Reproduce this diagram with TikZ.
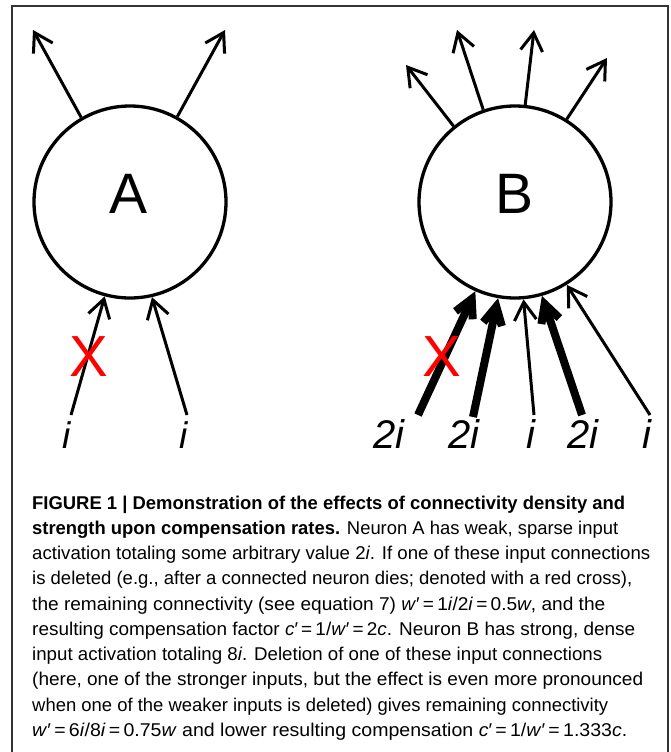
\documentclass[tikz,border=0pt]{standalone}
\usepackage{fontspec}
\setmainfont{Liberation Sans}
\usepackage{graphicx}
\usetikzlibrary{arrows.meta}
\begin{document}
\begin{tikzpicture}[x=1pt,y=-1pt,
  neuron/.style={draw, circle, line width=3.3pt, minimum size=192pt, inner sep=0pt},
  letter/.style={font=\fontsize{57}{57}\selectfont, anchor=base, inner sep=0pt},
  wkarr/.style={line width=3pt, -{Straight Barb[length=18pt,width=22pt]}},
  starr/.style={line width=8pt, -{Straight Barb[length=18pt,width=19pt]}},
  lblA/.style={font=\fontsize{37}{37}\selectfont\itshape, anchor=base, inner sep=0pt},
  lblB/.style={font=\fontsize{40}{40}\selectfont\itshape, anchor=base, inner sep=0pt},
  cross/.style={text=red, font=\fontsize{58}{58}\selectfont, inner sep=0pt},
  capline/.style={anchor=base west, inner sep=0pt, font=\fontsize{18.5}{18.5}\selectfont},
  frame/.style={line width=1.3pt, black!80}
]
\useasboundingbox (0,0) rectangle (670,752);
\draw[frame] (12,770) -- (12,6) -- (668,6) -- (668,770);

% neurons
\node[neuron] (A) at (130,202) {};
\node[neuron] (B) at (515,202) {};
\node[letter] (labA) at (129,213) {A};
\node[letter] (labB) at (515,213) {B};

% free ends
\coordinate (oA1) at (33,30);
\coordinate (oA2) at (225,30);
\coordinate (oB1) at (406,65);
\coordinate (oB2) at (457,30);
\coordinate (oB3) at (534,30);
\coordinate (oB4) at (607,58);
\coordinate (sA1) at (71,415);
\coordinate (sA2) at (187,415);
\coordinate (sB1) at (418,415);
\coordinate (sB2) at (473,417);
\coordinate (sB3) at (534,415);
\coordinate (sB4) at (582,415);
\coordinate (sB5) at (650,415);

% outputs
\draw[wkarr] (A.120) -- (oA1);
\draw[wkarr] (A.61) -- (oA2);
\draw[wkarr] (B.129) -- (oB1);
\draw[wkarr] (B.109) -- (oB2);
\draw[wkarr] (B.84) -- (oB3);
\draw[wkarr] (B.58) -- (oB4);

% inputs
\draw[wkarr] (sA1) -- (A.255);
\draw[wkarr] (sA2) -- (A.283);
\draw[starr] (sB1) -- (B.246);
\draw[starr] (sB2) -- (B.260);
\draw[wkarr] (sB3) -- (B.275);
\draw[starr] (sB4) -- (B.286);
\draw[wkarr] (sB5) -- (B.302);

% input labels
\node[lblA] (iA1) at (67,448) {i};
\node[lblA] (iA2) at (184,448) {i};
\node[lblB] (iB1) at (389,448) {2i};
\node[lblB] (iB2) at (464,448) {2i};
\node[lblB] (iB3) at (531,448) {i};
\node[lblB] (iB4) at (583,448) {2i};
\node[lblB] (iB5) at (647,448) {i};

% red crosses
\node[cross] (xA) at (89,357) {X};
\node[cross] (xB) at (442,357) {X};

% caption
\node[capline] (c1) at (32,509) {\resizebox{593pt}{\height}{\textbf{FIGURE 1 | Demonstration of the effects of connectivity density and}}};
\node[capline] (c2) at (32,534.25) {\resizebox{586pt}{\height}{\textbf{strength upon compensation rates.} Neuron A has weak, sparse input}};
\node[capline] (c3) at (32,559.5) {\resizebox{618pt}{\height}{activation totaling some arbitrary value 2\textit{i}. If one of these input connections}};
\node[capline] (c4) at (32,584.75) {\resizebox{600pt}{\height}{is deleted (e.g., after a connected neuron dies; denoted with a red cross),}};
\node[capline] (c5) at (32,610) {\resizebox{573pt}{\height}{the remaining connectivity (see equation 7) \textit{w}′\,=\,1\textit{i}/2\textit{i}\,=\,0.5\textit{w}, and the}};
\node[capline] (c6) at (32,635.25) {\resizebox{603pt}{\height}{resulting compensation factor \textit{c}′\,=\,1/\textit{w}′\,=\,2\textit{c}. Neuron B has strong, dense}};
\node[capline] (c7) at (32,660.5) {\resizebox{570pt}{\height}{input activation totaling 8\textit{i}. Deletion of one of these input connections}};
\node[capline] (c8) at (32,685.75) {\resizebox{611pt}{\height}{(here, one of the stronger inputs, but the effect is even more pronounced}};
\node[capline] (c9) at (32,711) {\resizebox{576pt}{\height}{when one of the weaker inputs is deleted) gives remaining connectivity}};
\node[capline] (c10) at (32,736.25) {\resizebox{595pt}{\height}{\textit{w}′\,=\,6\textit{i}/8\textit{i}\,=\,0.75\textit{w} and lower resulting compensation \textit{c}′\,=\,1/\textit{w}′\,=\,1.333\textit{c}.}};
\end{tikzpicture}
\end{document}
